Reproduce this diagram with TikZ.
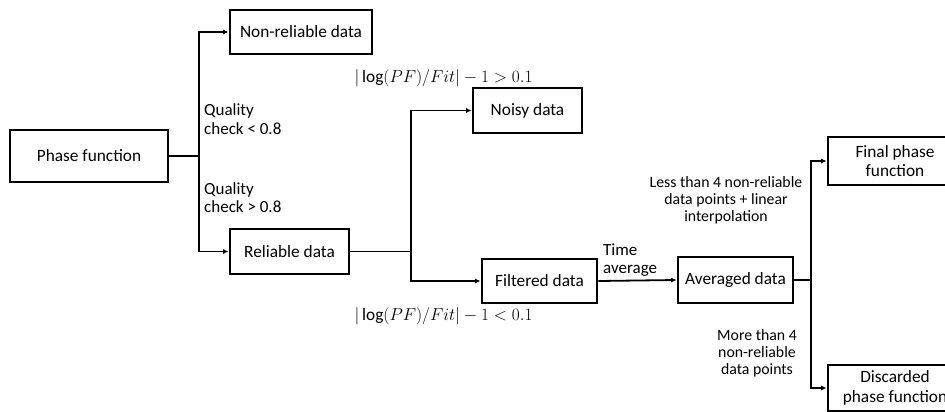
\documentclass[tikz,border=0pt]{standalone}
\usepackage{fontspec}
\setmainfont{Carlito}
\usetikzlibrary{arrows.meta}
\begin{document}
\begin{tikzpicture}[x=1pt,y=-1pt,
  box/.style={draw, line width=2.7pt, inner sep=0pt, align=center,
    font=\fontsize{17.3}{19.5}\selectfont},
  lbl/.style={inner sep=0pt, font=\fontsize{17}{18.5}\selectfont},
  sml/.style={inner sep=0pt, align=center, font=\fontsize{15.8}{17}\selectfont},
  mth/.style={inner sep=0pt, font=\fontsize{17.28}{20}\selectfont},
  conn/.style={line width=1.8pt},
  arr/.style={conn, -{Latex[length=5.5pt,width=5pt]}}]
\clip (0,0) rectangle (945,412);
\useasboundingbox (0,0) rectangle (945,412);

% boxes
\node[box, minimum width=158pt, minimum height=52pt] (pf) at (89,156) {Phase function};
\node[box, minimum width=142pt, minimum height=44pt] (nonrel) at (301,32) {Non-reliable data};
\node[box, minimum width=119pt, minimum height=45pt] (rel) at (289.5,251.5) {Reliable data};
\node[box, minimum width=109pt, minimum height=45pt] (noisy) at (527.5,110.5) {Noisy data};
\node[box, minimum width=115pt, minimum height=44pt] (filt) at (539.5,281) {Filtered data};
\node[box, minimum width=115pt, minimum height=46pt] (avg) at (735.5,280) {Averaged data};
\node[box, minimum width=134pt, minimum height=48pt] (final) at (895,161) {Final phase\\function};
\node[box, minimum width=134pt, minimum height=46pt] (disc) at (895,388) {Discarded\\phase function};

% junctions
\coordinate (j1) at (199,156);
\coordinate (j2) at (411,251.5);
\coordinate (j3) at (811,280);

% connectors
\draw[conn] (pf.east) -- (j1);
\draw[arr] (j1) |- (nonrel.west);
\draw[arr] (j1) |- (rel.west);
\draw[conn] (rel.east) -- (j2);
\draw[arr] (j2) |- (noisy.west);
\draw[arr] (j2) |- (filt.west);
\draw[arr] (filt.east) -- (avg.west);
\draw[conn] (avg.east) -- (j3);
\draw[arr] (j3) |- (final.west);
\draw[arr] (j3) |- (disc.west);

% labels
\node[lbl, anchor=west, align=left] (q1) at (204,119) {Quality\\check < 0.8};
\node[lbl, anchor=west, align=left] (q2) at (204,197.5) {Quality\\check > 0.8};
\node[mth] (m1) at (443.5,78) {$\vert\log(PF)/Fit\vert-1>0.1$};
\node[mth] (m2) at (443.5,316) {$\vert\log(PF)/Fit\vert-1<0.1$};
\node[lbl, anchor=west, align=left] (ta) at (603,260) {Time\\average};
\node[sml] (less) at (726,200) {Less than 4 non-reliable\\data points + linear\\interpolation};
\node[sml] (more) at (757,353) {More than 4\\non-reliable\\data points};
\end{tikzpicture}
\end{document}
